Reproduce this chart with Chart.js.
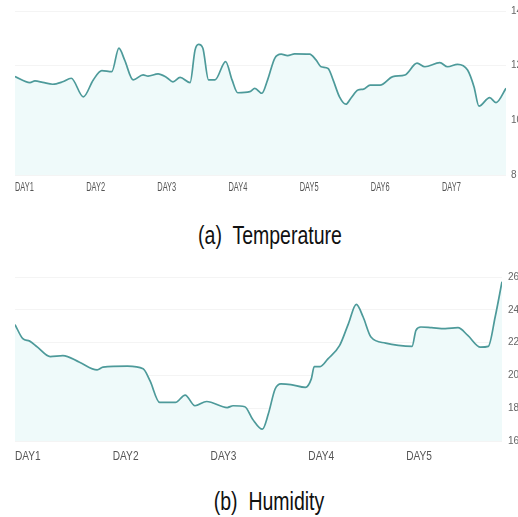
<!DOCTYPE html>
<html>
<head>
<meta charset="utf-8">
<script src="https://cdn.jsdelivr.net/npm/chart.js@4/dist/chart.umd.min.js"></script>
<style>
  body { margin: 0; background: #fff; width: 518px; height: 517px; position: relative; overflow: hidden; }
  canvas { position: absolute; left: 0; }
  .cap { position: absolute; font-family: "Liberation Sans", sans-serif; font-size: 25px; color: #111; white-space: pre; transform: translateX(-50%) scaleX(0.78); }
</style>
</head>
<body>
<canvas id="tempChart" width="518" height="200" style="top:0"></canvas>
<div class="cap" style="left:270px; top:221px">(a)  Temperature</div>
<canvas id="humChart" width="518" height="210" style="top:262px"></canvas>
<div class="cap" style="left:269px; top:487px">(b)  Humidity</div>
<script>
// temperature, x in days from DAY1
const tempDays = [0.00, 0.21, 0.28, 0.39, 0.53, 0.67, 0.79, 0.96, 1.10, 1.22, 1.36, 1.46, 1.54, 1.66, 1.80, 1.87,
  2.01, 2.13, 2.22, 2.32, 2.46, 2.53, 2.58, 2.64, 2.72, 2.81, 2.96, 3.05, 3.13, 3.30, 3.37, 3.47, 3.55, 3.65,
  3.74, 3.83, 3.93, 4.14, 4.23, 4.30, 4.40, 4.47, 4.56, 4.65, 4.72, 4.82, 4.90, 4.99, 5.13, 5.31, 5.48, 5.65,
  5.76, 5.97, 6.08, 6.22, 6.36, 6.45, 6.52, 6.67, 6.76, 6.90];
const tempValues = [11.60, 11.38, 11.44, 11.39, 11.32, 11.41, 11.54, 10.86, 11.48, 11.82, 11.78, 12.64, 12.21, 11.48, 11.66, 11.62,
  11.70, 11.57, 11.41, 11.57, 11.38, 12.57, 12.78, 12.64, 11.48, 11.48, 12.15, 11.48, 11.01, 11.05, 11.17, 10.99, 11.48, 12.27,
  12.42, 12.37, 12.43, 12.42, 12.21, 11.96, 11.90, 11.48, 10.86, 10.59, 10.81, 11.11, 11.14, 11.29, 11.29, 11.60, 11.66, 12.09,
  11.96, 12.11, 11.96, 12.05, 11.84, 11.23, 10.52, 10.83, 10.65, 11.17];
const tempTicks = [8, 10, 12, 14];

// humidity
const humDays = [0.00, 0.08, 0.15, 0.23, 0.36, 0.49, 0.66, 0.84, 0.90, 1.15, 1.31, 1.38, 1.48, 1.64, 1.74, 1.84,
  1.96, 2.17, 2.23, 2.35, 2.43, 2.53, 2.59, 2.66, 2.72, 2.82, 2.97, 3.03, 3.06, 3.12, 3.20, 3.32, 3.41, 3.49,
  3.56, 3.64, 3.79, 3.92, 4.06, 4.10, 4.15, 4.26, 4.40, 4.53, 4.63, 4.76, 4.84, 4.91, 4.98];
const humValues = [23.10, 22.24, 22.09, 21.72, 21.15, 21.21, 20.80, 20.34, 20.50, 20.56, 20.40, 19.68, 18.35, 18.35, 18.80, 18.15,
  18.41, 18.04, 18.15, 18.09, 17.33, 16.72, 17.64, 19.17, 19.48, 19.44, 19.27, 19.79, 20.54, 20.54, 21.01, 21.83, 23.16, 24.33,
  23.56, 22.34, 21.97, 21.83, 21.77, 22.75, 22.95, 22.91, 22.85, 22.91, 22.44, 21.72, 21.77, 23.56, 25.71];
const humTicks = [16, 18, 20, 22, 24, 26];

const lineColour = "#4d9a9a";
const fillColour = "#effafa";
const tickFont = "'Liberation Sans', sans-serif";

// day labels, drawn squeezed like the scanned figure
const dayLabels = {
  id: "dayLabels",
  afterDraw(chart, args, opts) {
    const { ctx, chartArea: { bottom }, scales: { x } } = chart;
    ctx.save();
    ctx.font = opts.size + "px " + tickFont;
    ctx.fillStyle = "#555";
    ctx.textAlign = "left";
    ctx.textBaseline = "middle";
    for (let d = 0; d <= Math.floor(x.max); d++) {
      ctx.save();
      ctx.translate(x.getPixelForValue(d), bottom + opts.offset);
      ctx.scale(opts.squeeze, 1);
      ctx.fillText("DAY" + (d + 1), 0, 0);
      ctx.restore();
    }
    ctx.restore();
  },
};

function makeChart(id, days, values, yTicks, opts) {
  const pts = days.map((d, i) => ({ x: d, y: values[i] }));
  return new Chart(document.getElementById(id), {
    type: "line",
    data: {
      datasets: [{
        data: pts,
        borderColor: lineColour,
        backgroundColor: fillColour,
        borderWidth: 1.7,
        pointRadius: 0,
        fill: "start",
        cubicInterpolationMode: "monotone",
      }],
    },
    options: {
      responsive: false,
      animation: false,
      layout: { padding: { left: 15, top: opts.top, right: 0, bottom: 0 } },
      plugins: {
        legend: { display: false },
        tooltip: { enabled: false },
        dayLabels: { size: opts.xFont, squeeze: opts.squeeze, offset: opts.xOffset },
      },
      scales: {
        x: {
          type: "linear",
          min: 0,
          max: opts.xMax,
          grid: { display: false },
          border: { display: false },
          afterFit: (s) => { s.height = opts.xHeight; },
          ticks: { display: false, stepSize: 1 },
        },
        y: {
          position: "right",
          min: yTicks[0],
          max: yTicks[yTicks.length - 1],
          afterFit: (s) => { s.width = opts.yWidth; },
          afterBuildTicks: (s) => { s.ticks = yTicks.map((v) => ({ value: v })); },
          grid: { color: "rgba(0,0,0,0.045)", drawTicks: false },
          border: { display: false },
          ticks: {
            padding: opts.yPad,
            color: "#666",
            font: { family: tickFont, size: opts.yFont },
          },
        },
      },
    },
    plugins: [dayLabels],
  });
}

makeChart("tempChart", tempDays, tempValues, tempTicks,
  { top: 11, xMax: 6.9, xHeight: 25, xOffset: 13, xFont: 12, squeeze: 0.62, yWidth: 12, yFont: 10, yPad: 5 });
makeChart("humChart", humDays, humValues, humTicks,
  { top: 15, xMax: 4.98, xHeight: 31, xOffset: 15, xFont: 13, squeeze: 0.78, yWidth: 16, yFont: 10, yPad: 6 });
</script>
</body>
</html>
